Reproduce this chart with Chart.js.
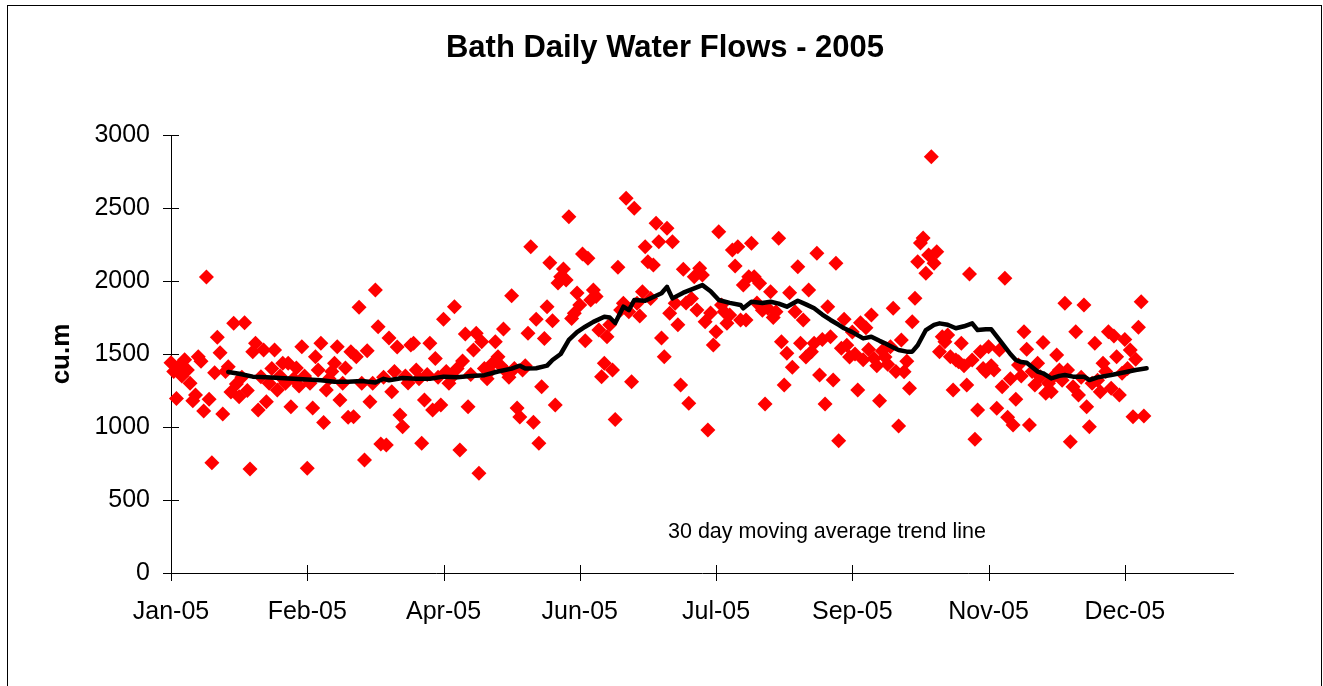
<!DOCTYPE html>
<html>
<head>
<meta charset="utf-8">
<title>Bath Daily Water Flows - 2005</title>
<script src="https://cdn.jsdelivr.net/npm/chart.js@4.4.1/dist/chart.umd.min.js"></script>
<style>
  html, body { margin: 0; padding: 0; background: #fff; overflow: hidden; }
  canvas { display: block; }
</style>
</head>
<body>
<canvas id="c" width="1323" height="686"></canvas>
<script>
// ---------- data ----------
const chartTitle = 'Bath Daily Water Flows - 2005';
const yAxisTitle = 'cu.m';
const noteText = '30 day moving average trend line';

// x tick positions (day index) and their labels
const tickDays = [0, 50, 100, 150, 200, 250, 300, 350];
const tickLabels = ['Jan-05', 'Feb-05', 'Apr-05', 'Jun-05', 'Jul-05', 'Sep-05', 'Nov-05', 'Dec-05'];
const yTicks = [0, 500, 1000, 1500, 2000, 2500, 3000];

// daily flow (cu.m), one value per day starting at day 0
const dailyFlow = [
  1440,1380,1196,1420,1350,1460,1390,1300,1180,1219,
  1482,1450,1110,2027,1190,755,1372,1614,1509,1089,
  1380,1413,1240,1710,1294,1208,1340,1714,1250,712,
  1516,1573,1116,1344,1527,1173,1299,1400,1527,1253,
  1350,1436,1299,1436,1139,1330,1404,1280,1550,1350,
  717,1300,1130,1481,1390,1573,1030,1253,1330,1380,
  1436,1550,1185,1300,1404,1066,1516,1070,1481,1820,
  1300,774,1523,1173,1300,1938,1687,884,1340,877,
  1610,1242,1380,1548,1082,1002,1350,1301,1562,1573,
  1390,1330,888,1185,1360,1573,1116,1470,1340,1150,
  1738,1380,1300,1340,1824,1400,842,1452,1637,1139,
  1360,1527,1642,683,1584,1400,1330,1380,1436,1584,
  1481,1420,1671,1380,1340,1899,1400,1130,1068,1390,
  1420,1642,2235,1032,1738,888,1276,1607,1824,2125,
  1728,1150,1986,2029,2082,2007,2440,1744,1779,1918,
  1836,2185,1591,2155,1870,1938,1893,1664,1344,1436,
  1618,1700,1390,1052,2094,1801,1847,2566,1790,1310,
  2498,1847,1760,1927,2235,2132,1880,2109,2395,2269,
  1610,1481,2361,1779,2269,1847,1700,1288,2080,1850,
  1162,1880,2029,1801,2087,2041,1721,979,1780,1562,
  1653,2338,1836,1790,1710,1767,2212,2103,2235,1733,
  1972,1733,2029,2258,2029,1850,1984,1800,1157,1813,
  1927,1750,1790,2292,1584,1288,1505,1920,1409,1790,
  2098,1573,1733,1480,1938,1516,1573,2190,1356,1600,
  1157,1824,1618,1322,2121,906,1540,1738,1560,1480,
  1650,1500,1253,1714,1460,1680,1530,1767,1470,1420,
  1180,1520,1480,1430,1550,1813,1380,1007,1596,1379,
  1450,1265,1721,1881,2132,2260,2294,2053,2178,2851,
  2121,2201,1516,1618,1584,1630,1481,1253,1459,1447,
  1573,1420,1288,2048,1459,916,1116,1516,1400,1380,
  1550,1420,1390,1128,1527,1276,2018,1066,1330,1013,
  1190,1424,1350,1653,1532,1013,1380,1288,1436,1344,
  1578,1231,1300,1242,1350,1493,1390,1320,1847,1390,
  899,1276,1653,1219,1340,1836,1139,1002,1299,1573,
  1320,1242,1436,1380,1653,1265,1623,1481,1219,1368,
  1600,1400,1527,1070,1464,1683,1858,1075
];

// 30 day moving average
const maDays = [21,25,30,35,40,45,50,55,60,65,70,75,78,80,85,90,95,100,105,110,115,120,125,128,130,134,138,140,143,146,149,152,155,159,161,163,166,168,170,174,177,180,182,184,188,192,195,198,201,205,209,210,213,217,220,223,226,230,233,236,239,242,245,247,250,254,257,260,262,265,267,270,272,274,277,280,282,285,288,291,294,296,299,301,303,305,308,310,312,314,318,320,323,326,328,331,335,337,340,345,350,354,358];
const maValues = [1377,1365,1345,1340,1335,1330,1325,1320,1310,1310,1315,1305,1330,1320,1335,1330,1330,1345,1340,1350,1355,1380,1400,1420,1400,1402,1420,1459,1500,1596,1650,1687,1720,1755,1750,1712,1824,1800,1870,1865,1890,1916,1960,1881,1920,1950,1972,1930,1870,1850,1836,1813,1858,1850,1858,1845,1824,1865,1840,1813,1770,1733,1700,1676,1650,1607,1618,1590,1573,1545,1527,1516,1516,1560,1664,1700,1710,1700,1676,1690,1710,1664,1670,1669,1620,1573,1500,1459,1445,1440,1380,1368,1333,1350,1356,1345,1345,1322,1340,1356,1375,1390,1402];

// ---------- chart ----------
const FONT = '"Liberation Sans", Arial, Helvetica, sans-serif';
Chart.defaults.font.family = FONT;
Chart.defaults.color = '#000';

const flowPoints = dailyFlow.map((v, i) => ({ x: i, y: v }));
const maPoints = maDays.map((d, i) => ({ x: d, y: maValues[i] }));

const decor = {
  id: 'decor',
  beforeDatasetsDraw(chart) {
    const { ctx } = chart;
    const xs = chart.scales.x, ys = chart.scales.y;
    ctx.save();
    ctx.strokeStyle = '#000';
    ctx.lineWidth = 1;
    ys.ticks.forEach(t => {
      const y = Math.round(ys.getPixelForValue(t.value)) + 0.5;
      ctx.beginPath(); ctx.moveTo(xs.left - 8, y); ctx.lineTo(xs.left + 8, y); ctx.stroke();
    });
    xs.ticks.forEach(t => {
      const x = Math.round(xs.getPixelForValue(t.value)) + 0.5;
      ctx.beginPath(); ctx.moveTo(x, ys.bottom - 8); ctx.lineTo(x, ys.bottom + 8); ctx.stroke();
    });
    ctx.restore();
  },
  afterDraw(chart) {
    const { ctx } = chart;
    ctx.save();
    ctx.strokeStyle = '#000';
    ctx.lineWidth = 1;
    ctx.strokeRect(7.5, 5.5, 1314, 720);
    ctx.fillStyle = '#000';
    ctx.font = 'bold 31px ' + FONT;
    ctx.textAlign = 'center';
    ctx.textBaseline = 'middle';
    ctx.fillText(chartTitle, 665, 48);
    ctx.font = '21.5px ' + FONT;
    ctx.textAlign = 'left';
    ctx.fillText(noteText, 668, 532);
    ctx.restore();
  }
};

new Chart(document.getElementById('c'), {
  type: 'scatter',
  data: {
    datasets: [
      {
        label: '30 day moving average',
        data: maPoints,
        showLine: true,
        borderColor: '#000',
        backgroundColor: '#000',
        borderWidth: 4.5,
        borderJoinStyle: 'round',
        borderCapStyle: 'round',
        pointRadius: 0,
        tension: 0,
        order: 0
      },
      {
        label: 'Daily flow',
        data: flowPoints,
        pointStyle: 'rectRot',
        pointRadius: 7.5,
        pointBackgroundColor: '#ff0000',
        pointBorderColor: '#ff0000',
        pointBorderWidth: 0,
        clip: false,
        order: 1
      }
    ]
  },
  options: {
    responsive: false,
    animation: false,
    devicePixelRatio: 1,
    layout: { padding: { top: 135, left: 0, right: 90, bottom: 0 } },
    plugins: {
      legend: { display: false },
      tooltip: { enabled: false },
      title: { display: false }
    },
    scales: {
      x: {
        type: 'linear',
        min: 0,
        max: 389.7,
        afterFit: s => { s.height = 113; },
        afterBuildTicks: s => { s.ticks = tickDays.map(v => ({ value: v })); },
        grid: { display: false, drawTicks: false },
        border: { display: true, color: '#000', width: 1 },
        ticks: {
          padding: 24,
          font: { size: 25 },
          color: '#000',
          maxRotation: 0,
          autoSkip: false,
          callback: (v, i) => tickLabels[i]
        }
      },
      y: {
        min: 0,
        max: 3000,
        afterFit: s => { s.width = 171; },
        afterBuildTicks: s => { s.ticks = yTicks.map(v => ({ value: v })); },
        grid: { display: false, drawTicks: false },
        border: { display: true, color: '#000', width: 1 },
        ticks: {
          padding: 21,
          font: { size: 25 },
          color: '#000',
          callback: v => String(v)
        },
        title: {
          display: true,
          text: yAxisTitle,
          font: { size: 26, weight: 'bold' },
          color: '#000',
          padding: { top: 46, bottom: 0 }
        }
      }
    }
  },
  plugins: [decor]
});
</script>
</body>
</html>
